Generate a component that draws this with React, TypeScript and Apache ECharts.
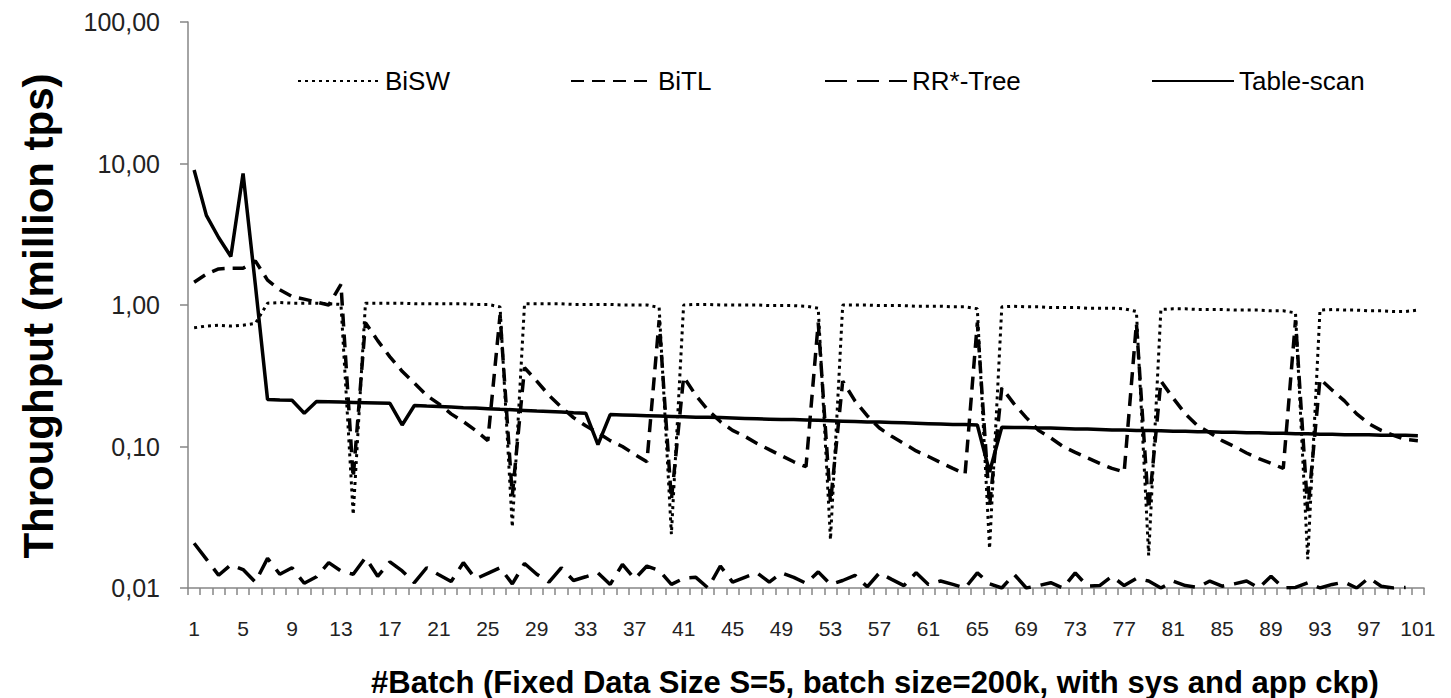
import React, { useEffect, useRef } from 'react';
import * as echarts from 'echarts';

const batches: string[] = Array.from({ length: 101 }, (_, i) => String(i + 1));

const yTickLabels = ['0,01', '0,10', '1,00', '10,00', '100,00'];

const seriesNames = ['BiSW', 'BiTL', 'RR*-Tree', 'Table-scan'];

const bisw = [
  0.69, 0.71, 0.72, 0.71, 0.72, 0.74, 1.03, 1.04, 1.03, 1.03,
  1.03, 1.02, 1.01, 0.033, 1.03, 1.03, 1.03, 1.03, 1.02, 1.02,
  1.02, 1.02, 1.02, 1.01, 1.01, 0.97, 0.027, 1.02, 1.02, 1.02,
  1.02, 1.01, 1.01, 1.01, 1.01, 1.0, 1.0, 1.0, 0.96, 0.024,
  1.0, 1.01, 1.01, 1.0, 1.0, 1.0, 1.0, 0.99, 0.99, 0.99,
  0.98, 0.95, 0.022, 1.0, 1.0, 1.0, 0.99, 0.99, 0.99, 0.98,
  0.98, 0.98, 0.97, 0.97, 0.94, 0.019, 0.97, 0.98, 0.97, 0.97,
  0.96, 0.96, 0.96, 0.95, 0.95, 0.95, 0.94, 0.9, 0.017, 0.93,
  0.94, 0.94, 0.93, 0.93, 0.93, 0.92, 0.92, 0.92, 0.91, 0.91,
  0.88, 0.016, 0.92, 0.93, 0.92, 0.92, 0.91, 0.91, 0.9, 0.9,
  0.92,
];

const bitl = [
  1.45, 1.65, 1.8, 1.82, 1.82, 2.05, 1.5, 1.28, 1.15, 1.1,
  1.05, 1.0, 1.4, 0.06, 0.75, 0.56, 0.43, 0.34, 0.28, 0.23,
  0.2, 0.17, 0.15, 0.13, 0.11, 0.85, 0.045, 0.36, 0.29, 0.23,
  0.19, 0.16, 0.14, 0.125, 0.11, 0.1, 0.088, 0.078, 0.78, 0.042,
  0.31, 0.23, 0.18, 0.15, 0.13, 0.118, 0.105, 0.095, 0.086, 0.078,
  0.072, 0.75, 0.04, 0.29, 0.21, 0.165, 0.135, 0.118, 0.105, 0.093,
  0.085, 0.077, 0.07, 0.064, 0.75, 0.038, 0.26, 0.2, 0.16, 0.13,
  0.115, 0.1, 0.091, 0.083, 0.076, 0.07, 0.066, 0.74, 0.036, 0.29,
  0.22, 0.17, 0.14, 0.125, 0.11, 0.1, 0.09, 0.082, 0.076, 0.07,
  0.78, 0.035, 0.3, 0.25, 0.21, 0.17, 0.145, 0.13, 0.12, 0.112,
  0.11,
];

const rrTree: (number | null)[] = [
  0.0207, 0.016, 0.0123, 0.0146, 0.0135, 0.011, 0.0162, 0.0125, 0.0139, 0.0108,
  0.012, 0.0151, 0.0132, 0.0125, 0.0164, 0.0121, 0.0153, 0.0132, 0.0109, 0.0139,
  0.0124, 0.0111, 0.0151, 0.0116, 0.0127, 0.0139, 0.0107, 0.0149, 0.0125, 0.011,
  0.0139, 0.0113, 0.012, 0.0128, 0.0106, 0.0147, 0.0116, 0.0143, 0.0133, 0.0106,
  0.0117, 0.0119, 0.01, 0.0143, 0.011, 0.0119, 0.0128, 0.011, 0.0128, 0.0119,
  0.0108, 0.013, 0.0106, 0.0113, 0.0123, 0.0102, 0.0128, 0.0115, 0.0104, 0.0128,
  0.0106, 0.0112, 0.0106, 0.01, 0.0128, 0.0107, 0.01, 0.0125, 0.01, 0.0104,
  0.0109, 0.01, 0.0128, 0.0103, 0.0104, 0.0121, 0.0104, 0.0117, 0.0112, 0.01,
  0.0112, 0.0104, 0.0101, 0.0112, 0.0103, 0.0107, 0.0112, 0.01, 0.0121, 0.01,
  0.0101, 0.0109, 0.01, 0.0106, 0.011, 0.01, 0.0118, 0.0103, 0.01, 0.0101,
  null,
];

const tableScan = [
  9.0, 4.3, 3.0, 2.2, 8.5, 1.4, 0.215, 0.213, 0.212, 0.172,
  0.208, 0.207, 0.206, 0.205, 0.204, 0.203, 0.202, 0.142, 0.195, 0.193,
  0.192, 0.19, 0.188, 0.187, 0.185, 0.183, 0.182, 0.18, 0.178, 0.177,
  0.175, 0.173, 0.172, 0.103, 0.168, 0.167, 0.166, 0.165, 0.164, 0.163,
  0.162, 0.161, 0.161, 0.16, 0.159, 0.158, 0.157, 0.156, 0.155, 0.155,
  0.154, 0.153, 0.152, 0.151, 0.15, 0.149, 0.149, 0.148, 0.147, 0.146,
  0.145, 0.144, 0.143, 0.143, 0.142, 0.066, 0.137, 0.136, 0.136, 0.135,
  0.135, 0.134, 0.133, 0.133, 0.132, 0.131, 0.131, 0.13, 0.13, 0.129,
  0.128, 0.128, 0.127, 0.127, 0.126, 0.126, 0.125, 0.125, 0.124, 0.124,
  0.123, 0.123, 0.122, 0.122, 0.121, 0.121, 0.121, 0.12, 0.12, 0.12,
  0.119,
];

const FONT = 'Liberation Sans, Arial, sans-serif';

export default function App() {
  const ref = useRef<HTMLDivElement>(null);

  useEffect(() => {
    if (!ref.current) return;
    const chart = echarts.init(ref.current, null, { renderer: 'svg' });

    const legendLefts = [292, 565, 819, 1146];
    const legendTextStyle = { fontFamily: FONT, fontSize: 26, color: '#000' };

    const option: any = {
      animation: false,
      backgroundColor: '#fff',
      grid: { left: 188, right: 27, top: 22, bottom: 110, containLabel: false },
      legend: seriesNames.map((name, i) => ({
        data: [name],
        left: legendLefts[i],
        top: 63,
        itemWidth: 82,
        itemHeight: 20,
        itemGap: 0,
        selectedMode: false,
        itemStyle: { opacity: 0 },
        textStyle: legendTextStyle,
      })),
      xAxis: {
        type: 'category',
        data: batches,
        boundaryGap: true,
        axisLine: { lineStyle: { color: '#868686', width: 1.5 } },
        axisTick: { show: true, interval: 0, length: 7, lineStyle: { color: '#868686', width: 1.5 } },
        axisLabel: {
          interval: 3,
          margin: 30,
          fontFamily: FONT,
          fontSize: 21,
          color: '#222',
        },
        splitLine: { show: false },
      },
      yAxis: {
        type: 'log',
        logBase: 10,
        min: 0.01,
        max: 100,
        axisLine: { show: true, lineStyle: { color: '#868686', width: 1.5 } },
        axisTick: { show: true, length: 8, lineStyle: { color: '#868686', width: 1.5 } },
        axisLabel: {
          margin: 28,
          fontFamily: FONT,
          fontSize: 25,
          color: '#222',
          formatter: (v: number) => yTickLabels[Math.round(Math.log10(v)) + 2] ?? '',
        },
        splitLine: { show: false },
      },
      graphic: [
        {
          type: 'text',
          x: 875,
          y: 682,
          style: {
            text: '#Batch (Fixed Data Size S=5, batch size=200k, with sys and app ckp)',
            fontFamily: FONT,
            fontSize: 31,
            fontWeight: 'bold',
            fill: '#000',
            align: 'center',
            verticalAlign: 'middle',
            textAlign: 'center',
            textVerticalAlign: 'middle',
          },
        },
        {
          type: 'text',
          x: 38,
          y: 316,
          rotation: Math.PI / 2,
          style: {
            text: 'Throughput (million tps)',
            fontFamily: FONT,
            fontSize: 42,
            fontWeight: 'bold',
            fill: '#000',
            align: 'center',
            verticalAlign: 'middle',
            textAlign: 'center',
            textVerticalAlign: 'middle',
          },
        },
      ],
      series: [
        {
          name: 'BiSW',
          type: 'line',
          data: bisw,
          symbol: 'none',
          showSymbol: false,
          z: 2,
          lineStyle: { color: '#000', width: 3, type: [3, 4] },
          itemStyle: { color: '#000' },
        },
        {
          name: 'BiTL',
          type: 'line',
          data: bitl,
          symbol: 'none',
          showSymbol: false,
          z: 3,
          lineStyle: { color: '#000', width: 3.5, type: [13, 8] },
          itemStyle: { color: '#000' },
        },
        {
          name: 'RR*-Tree',
          type: 'line',
          data: rrTree,
          symbol: 'none',
          showSymbol: false,
          z: 3,
          lineStyle: { color: '#000', width: 3.5, type: [22, 10] },
          itemStyle: { color: '#000' },
        },
        {
          name: 'Table-scan',
          type: 'line',
          data: tableScan,
          symbol: 'none',
          showSymbol: false,
          z: 4,
          lineStyle: { color: '#000', width: 3.5 },
          itemStyle: { color: '#000' },
        },
      ],
    };

    chart.setOption(option);
    return () => chart.dispose();
  }, []);

  return (
    <div
      ref={ref}
      style={{ position: 'fixed', left: 0, top: 0, width: 1451, height: 698, background: '#fff' }}
    />
  );
}
